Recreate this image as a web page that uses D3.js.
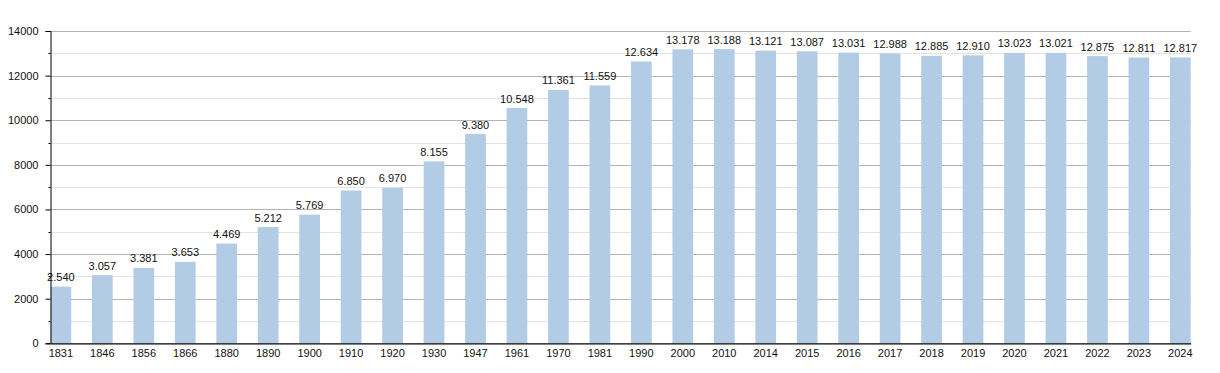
<!DOCTYPE html>
<html>
<head>
<meta charset="utf-8">
<script src="https://cdn.jsdelivr.net/npm/d3@7"></script>
<style>
body { margin: 0; background: #fff; }
text { font-family: "Liberation Sans", Arial, sans-serif; }
</style>
</head>
<body>
<script>
var years = ["1831","1846","1856","1866","1880","1890","1900","1910","1920","1930","1947","1961","1970","1981","1990","2000","2010","2014","2015","2016","2017","2018","2019","2020","2021","2022","2023","2024"];
var population = [2540,3057,3381,3653,4469,5212,5769,6850,6970,8155,9380,10548,11361,11559,12634,13178,13188,13121,13087,13031,12988,12885,12910,13023,13021,12875,12811,12817];
var majorTicks = [0,2000,4000,6000,8000,10000,12000,14000];
var minorTicks = [1000,3000,5000,7000,9000,11000,13000];

var width = 1220, height = 373;
var plotLeft = 50.5, plotRight = 1190.7, plotTop = 31, plotBottom = 343.3;

var svg = d3.select("body").append("svg")
    .attr("width", width)
    .attr("height", height);

var x = d3.scaleBand()
    .domain(years)
    .range([plotLeft, plotRight])
    .paddingInner(0.5)
    .paddingOuter(0);

var y = d3.scaleLinear()
    .domain([0, 14000])
    .range([plotBottom, plotTop]);

// dot as thousands separator
var fmt = d3.formatLocale({decimal: ",", thousands: ".", grouping: [3], currency: ["", ""]}).format(",");

// grid
svg.append("g").selectAll("line")
  .data(minorTicks)
  .enter().append("line")
    .attr("x1", plotLeft).attr("x2", plotRight)
    .attr("y1", function(d) { return Math.round(y(d)) + 0.5; })
    .attr("y2", function(d) { return Math.round(y(d)) + 0.5; })
    .attr("stroke", "#e2e2e2");

svg.append("g").selectAll("line")
  .data(majorTicks.slice(1))
  .enter().append("line")
    .attr("x1", plotLeft).attr("x2", plotRight)
    .attr("y1", function(d) { return Math.round(y(d)) + 0.5; })
    .attr("y2", function(d) { return Math.round(y(d)) + 0.5; })
    .attr("stroke", "#b4b4b4");

// bars
svg.append("g").selectAll("rect")
  .data(population)
  .enter().append("rect")
    .attr("x", function(d, i) { return x(years[i]); })
    .attr("width", x.bandwidth())
    .attr("y", function(d) { return y(d); })
    .attr("height", function(d) { return plotBottom - y(d); })
    .attr("fill", "#b3cce6");

// value labels
svg.append("g").selectAll("text")
  .data(population)
  .enter().append("text")
    .attr("x", function(d, i) { return x(years[i]) + x.bandwidth() / 2; })
    .attr("y", function(d) { return y(d) - 5.5; })
    .attr("text-anchor", "middle")
    .attr("font-size", 11)
    .attr("fill", "#111")
    .text(function(d) { return fmt(d); });

// y axis
var yAxis = d3.axisLeft(y)
    .tickValues(majorTicks)
    .tickSize(5)
    .tickPadding(7)
    .tickFormat(d3.format("d"));

var gy = svg.append("g")
    .attr("transform", "translate(" + plotLeft + ",0)")
    .call(yAxis);
gy.select(".domain").attr("stroke", "#000");
gy.selectAll("text").attr("font-size", 11).attr("fill", "#111").style("font-family", "Liberation Sans, Arial, sans-serif");

gy.selectAll("line.minor")
  .data(minorTicks)
  .enter().append("line")
    .attr("class", "minor")
    .attr("x1", -2).attr("x2", 0)
    .attr("y1", function(d) { return Math.round(y(d)) + 0.5; })
    .attr("y2", function(d) { return Math.round(y(d)) + 0.5; })
    .attr("stroke", "#000");

// x axis
var xAxis = d3.axisBottom(x)
    .tickSize(0)
    .tickPadding(6);

var gx = svg.append("g")
    .attr("transform", "translate(0," + plotBottom + ")")
    .call(xAxis);
gx.select(".domain").attr("stroke", "#000").attr("stroke-width", 1.3);
gx.selectAll("text").attr("font-size", 11).attr("fill", "#111").style("font-family", "Liberation Sans, Arial, sans-serif");
</script>
</body>
</html>
